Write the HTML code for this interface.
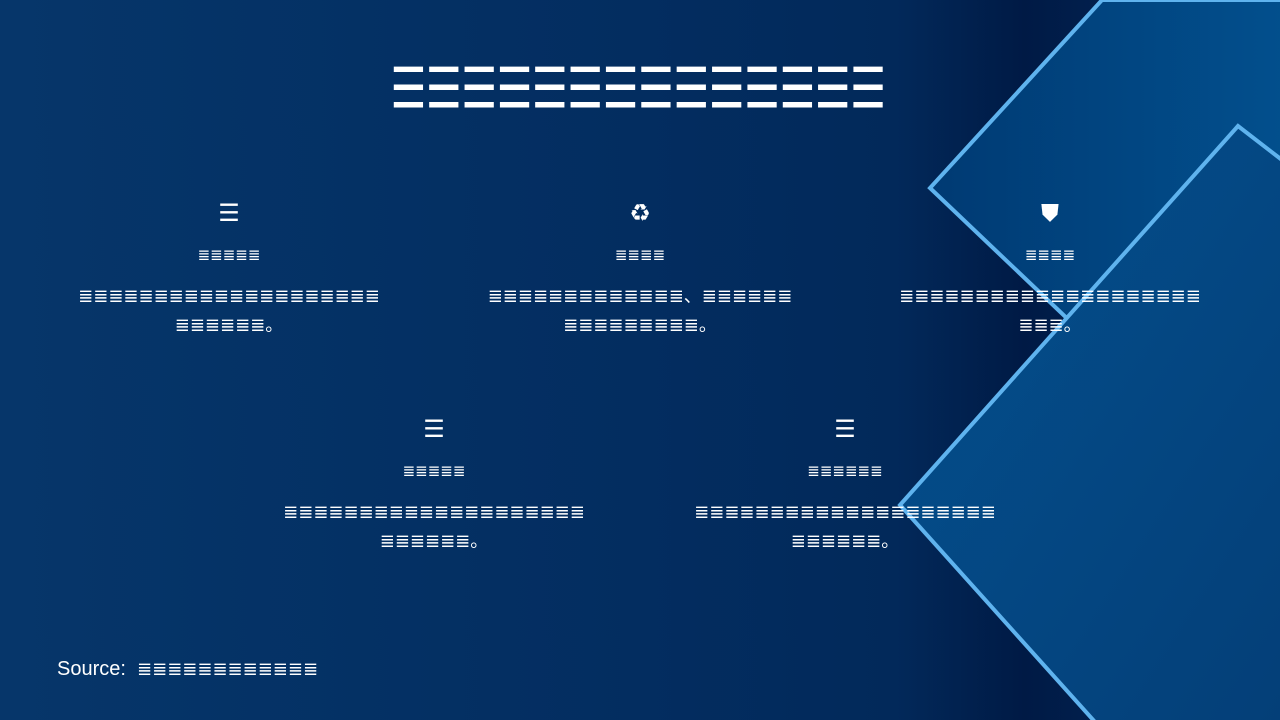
<!DOCTYPE html>
<html><head><meta charset="utf-8"><style>
html,body{margin:0;padding:0}
body{width:1280px;height:720px;overflow:hidden;position:relative;background:linear-gradient(90deg,#06366a 0%,#032d60 50%,#02295a 70%,#001a45 80%,#052c60 100%);font-family:"DejaVu Sans","Liberation Sans",sans-serif;color:#fff}
svg{position:absolute;left:0;top:0}
.t{position:absolute;text-align:center;white-space:nowrap}
.title{left:0;width:1276px;top:57px;font-size:40px;line-height:56px;letter-spacing:-0.5px;transform:scaleY(1.4);transform-origin:50% 30%}
.blk{position:absolute;width:420px;text-align:center}
.ic{font-size:24px;height:30px;line-height:30px}
.h{font-size:15px;margin-top:15px;line-height:24px}
.b{font-size:18px;line-height:29px;margin-top:15px}
</style></head><body>
<svg width="1280" height="720">
<defs>
<linearGradient id="g1" x1="0" y1="0" x2="1" y2="0"><stop offset="0" stop-color="#003a73"/><stop offset="1" stop-color="#02508e"/></linearGradient>
<linearGradient id="g2" x1="0" y1="0" x2="1" y2="1"><stop offset="0" stop-color="#03508e"/><stop offset="1" stop-color="#043f78"/></linearGradient>
</defs>
<polygon points="1102,0 930,188 1300,540 1300,0" fill="url(#g1)" stroke="#5fb3ee" stroke-width="4"/>
<polygon points="1238,126 900,505 1095,722 1282,722 1282,160" fill="url(#g2)" stroke="#5fb3ee" stroke-width="4"/>
</svg>
<div class="t title">☰☰☰☰☰☰☰☰☰☰☰☰☰☰</div>
<div class="blk" style="left:19px;top:198px"><div class="ic">☰</div><div class="h">≣≣≣≣≣</div><div class="b">≣≣≣≣≣≣≣≣≣≣≣≣≣≣≣≣≣≣≣≣<br>≣≣≣≣≣≣。</div></div>
<div class="blk" style="left:430px;top:198px"><div class="ic">♻</div><div class="h">≣≣≣≣</div><div class="b">≣≣≣≣≣≣≣≣≣≣≣≣≣、≣≣≣≣≣≣<br>≣≣≣≣≣≣≣≣≣。</div></div>
<div class="blk" style="left:840px;top:198px"><div class="ic">⛊</div><div class="h">≣≣≣≣</div><div class="b">≣≣≣≣≣≣≣≣≣≣≣≣≣≣≣≣≣≣≣≣<br>≣≣≣。</div></div>
<div class="blk" style="left:224px;top:414px"><div class="ic">☰</div><div class="h">≣≣≣≣≣</div><div class="b">≣≣≣≣≣≣≣≣≣≣≣≣≣≣≣≣≣≣≣≣<br>≣≣≣≣≣≣。</div></div>
<div class="blk" style="left:635px;top:414px"><div class="ic">☰</div><div class="h">≣≣≣≣≣≣</div><div class="b">≣≣≣≣≣≣≣≣≣≣≣≣≣≣≣≣≣≣≣≣<br>≣≣≣≣≣≣。</div></div>
<div class="t" style="left:57px;top:655px;font-size:20px;line-height:28px;font-family:'Liberation Sans',sans-serif">Source:&nbsp; <span style="font-family:'DejaVu Sans';font-size:18px">≣≣≣≣≣≣≣≣≣≣≣≣</span></div>
</body></html>
